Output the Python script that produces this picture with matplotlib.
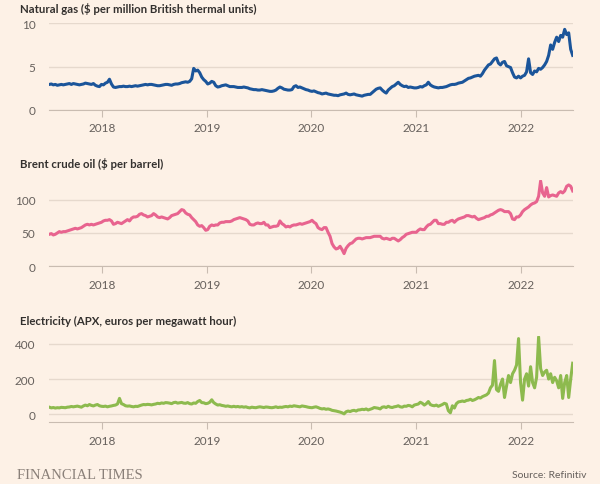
import matplotlib
matplotlib.use('Agg')
import matplotlib.pyplot as plt
import matplotlib.dates as mdates
import numpy as np
import pandas as pd

# weekly (Friday) readings, 30 Jun 2017 - 1 Jul 2022
year_spans = [('2017-06-30', '2017-12-31'), ('2018-01-01', '2018-12-31'),
              ('2019-01-01', '2019-12-31'), ('2020-01-01', '2020-12-31'),
              ('2021-01-01', '2021-12-31'), ('2022-01-01', '2022-07-01')]

gas_2017 = [2.95, 3.0, 2.9, 2.95, 2.85, 2.9, 2.95, 2.9, 2.95, 3.0, 3.05, 2.95, 3.05,
            3.0, 2.95, 2.9, 2.95, 3.0, 3.1, 3.05, 3.0, 2.95, 3.05, 2.85, 2.75, 2.7, 2.95]
gas_2018 = [2.9, 3.1, 3.2, 3.55, 3.0, 2.65, 2.6, 2.65, 2.7, 2.7, 2.75, 2.7, 2.7,
            2.75, 2.7, 2.75, 2.8, 2.75, 2.8, 2.85, 2.9, 2.95, 2.9, 2.95, 2.95, 2.9,
            2.85, 2.8, 2.8, 2.85, 2.9, 2.95, 2.95, 2.9, 2.85, 2.95, 3.0, 3.0, 3.05,
            3.15, 3.2, 3.25, 3.2, 3.3, 3.6, 4.8, 4.5, 4.6, 4.3, 3.8, 3.5, 3.3]
gas_2019 = [3.0, 3.1, 3.3, 3.2, 2.8, 2.65, 2.7, 2.8, 2.85, 2.9, 2.8, 2.7, 2.7,
            2.7, 2.65, 2.6, 2.6, 2.6, 2.65, 2.6, 2.55, 2.45, 2.4, 2.35, 2.35, 2.3,
            2.3, 2.35, 2.3, 2.25, 2.2, 2.15, 2.15, 2.2, 2.3, 2.5, 2.65, 2.55, 2.4,
            2.35, 2.3, 2.3, 2.35, 2.7, 2.8, 2.6, 2.65, 2.55, 2.45, 2.35, 2.3, 2.2]
gas_2020 = [2.15, 2.2, 2.1, 2.0, 1.95, 1.85, 1.9, 1.95, 1.85, 1.8, 1.75, 1.7, 1.7,
            1.65, 1.75, 1.8, 1.85, 1.95, 1.8, 1.75, 1.8, 1.85, 1.75, 1.7, 1.65, 1.6,
            1.7, 1.75, 1.8, 1.8, 2.0, 2.2, 2.4, 2.5, 2.55, 2.3, 2.1, 1.95, 2.3,
            2.5, 2.7, 2.8, 3.0, 3.2, 2.95, 2.8, 2.7, 2.75, 2.6, 2.65, 2.6, 2.55]
gas_2021 = [2.55, 2.6, 2.7, 2.65, 2.8, 2.9, 3.2, 2.9, 2.75, 2.65, 2.6, 2.55, 2.6,
            2.6, 2.65, 2.7, 2.8, 2.9, 2.95, 2.95, 3.0, 3.1, 3.15, 3.2, 3.35, 3.5,
            3.65, 3.7, 3.8, 3.9, 3.95, 4.0, 3.9, 4.2, 4.6, 4.9, 5.2, 5.3, 5.6,
            5.9, 6.0, 5.4, 5.2, 5.5, 5.6, 5.1, 5.0, 4.9, 4.3, 3.8, 3.7, 3.9, 3.7]
gas_2022 = [3.9, 4.0, 4.4, 5.9, 4.3, 4.1, 4.5, 4.4, 4.8, 4.7, 4.9, 5.2, 5.6,
            6.3, 7.5, 7.0, 7.8, 8.4, 7.9, 8.6, 8.4, 9.3, 8.7, 8.9, 7.0, 6.3]

oil_2017 = [48, 49, 47, 48, 50, 52, 51, 52, 52, 53, 54, 55, 56,
            57, 56, 57, 58, 60, 62, 63, 62, 63, 62, 63, 64, 65, 66]
oil_2018 = [68, 69, 69, 70, 68, 63, 64, 66, 65, 64, 66, 68, 70,
            68, 72, 74, 74, 75, 78, 79, 77, 76, 74, 75, 76, 79,
            77, 74, 73, 74, 73, 72, 71, 73, 76, 77, 78, 79, 82,
            85, 84, 80, 78, 77, 73, 70, 67, 62, 60, 61, 58, 54]
oil_2019 = [55, 60, 62, 61, 62, 62, 65, 66, 66, 67, 67, 67, 68,
            70, 71, 72, 73, 72, 71, 70, 68, 63, 62, 62, 64, 65,
            64, 64, 66, 62, 62, 58, 59, 60, 60, 61, 68, 64, 62,
            59, 60, 59, 61, 62, 62, 63, 64, 63, 64, 65, 66, 67]
oil_2020 = [69, 66, 64, 58, 56, 55, 58, 58, 51, 45, 34, 29, 26,
            27, 30, 25, 19, 27, 31, 34, 35, 38, 41, 42, 42, 41,
            42, 43, 43, 43, 44, 45, 45, 45, 45, 42, 41, 42, 41,
            40, 42, 42, 40, 38, 40, 43, 45, 48, 49, 50, 51, 51]
oil_2021 = [51, 54, 56, 55, 55, 59, 62, 63, 66, 69, 69, 64, 64,
            63, 63, 66, 66, 68, 69, 66, 69, 71, 72, 73, 74, 76,
            76, 75, 74, 75, 72, 70, 71, 72, 73, 75, 75, 77, 78,
            80, 82, 84, 85, 84, 82, 82, 82, 79, 71, 70, 74, 74, 77]
oil_2022 = [82, 85, 87, 89, 92, 94, 95, 97, 105, 128, 110, 105, 118,
            104, 106, 107, 106, 105, 110, 112, 110, 113, 120, 122, 120, 113]

power_2017 = [40, 36, 38, 35, 37, 36, 39, 38, 37, 40, 41, 44, 42,
              44, 46, 43, 40, 47, 52, 48, 55, 50, 47, 52, 55, 48, 45]
power_2018 = [44, 46, 42, 45, 47, 50, 52, 58, 90, 60, 55, 48, 46,
              47, 44, 42, 45, 44, 48, 52, 55, 54, 56, 55, 53, 56,
              58, 62, 60, 64, 62, 66, 65, 63, 60, 66, 68, 63, 65,
              67, 63, 62, 66, 60, 58, 64, 62, 72, 78, 66, 65, 60]
power_2019 = [62, 68, 82, 66, 58, 52, 54, 50, 48, 45, 47, 44, 42,
              45, 42, 44, 41, 43, 40, 42, 38, 36, 40, 38, 37, 40,
              42, 40, 38, 41, 40, 38, 37, 39, 42, 38, 40, 39, 42,
              44, 42, 46, 44, 48, 46, 44, 42, 47, 45, 43, 40, 38]
power_2020 = [37, 40, 42, 38, 33, 30, 32, 28, 30, 27, 22, 20, 18,
              15, 12, 8, 2, 14, 18, 15, 20, 22, 18, 24, 25, 28,
              26, 30, 24, 28, 32, 38, 36, 34, 30, 40, 42, 38, 45,
              40, 38, 42, 44, 48, 42, 40, 46, 45, 50, 48, 42, 52]
power_2021 = [55, 58, 68, 62, 52, 60, 72, 55, 50, 48, 52, 45, 50,
              55, 62, 58, 20, 8, 48, 35, 60, 70, 72, 75, 72, 78,
              80, 85, 78, 82, 88, 95, 92, 100, 105, 110, 120, 150, 165,
              305, 140, 130, 170, 200, 95, 160, 220, 180, 230, 250, 280, 430, 180]
power_2022 = [80, 200, 230, 160, 270, 180, 150, 210, 440, 260, 220, 240, 250,
              200, 230, 180, 210, 190, 150, 220, 90, 180, 220, 95, 200, 290]

titles = ['Natural gas ($ per million British thermal units)',
          'Brent crude oil ($ per barrel)',
          'Electricity (APX, euros per megawatt hour)']
yticks = [[0, 5, 10], [0, 50, 100], [0, 200, 400]]
ylims = [(0, 10), (0, 130), (-46, 447)]
colors = ['#1b559a', '#e8648f', '#8dba4e']

BG = '#fdf1e6'
GRID = '#e6d9cd'
TXT = '#66605c'

dates = pd.DatetimeIndex(np.concatenate(
    [pd.date_range(a, b, freq='W-FRI').values for a, b in year_spans]))
gas = gas_2017 + gas_2018 + gas_2019 + gas_2020 + gas_2021 + gas_2022
oil = oil_2017 + oil_2018 + oil_2019 + oil_2020 + oil_2021 + oil_2022
power = power_2017 + power_2018 + power_2019 + power_2020 + power_2021 + power_2022
data = [gas, oil, power]

plt.rcParams['font.family'] = ['Lato', 'DejaVu Sans']

fig = plt.figure(figsize=(6, 4.85), dpi=100, facecolor=BG)
W, H = 600, 485
x0, x1 = 49.3, 572.7
bottoms = [111, 267.3, 423.3]
height = 86.7
title_y = [9, 164.5, 321.5]

for i in range(3):
    ax = fig.add_axes([x0 / W, 1 - bottoms[i] / H, (x1 - x0) / W, height / H])
    ax.set_facecolor(BG)
    ax.plot(dates, data[i], color=colors[i], lw=2.2, solid_joinstyle='round')
    ax.set_xlim(dates[0], dates[-1])
    ax.set_ylim(*ylims[i])
    ax.set_yticks(yticks[i])
    ax.grid(axis='y', color=GRID, lw=1)
    ax.set_axisbelow(True)
    for side in ['top', 'right', 'left']:
        ax.spines[side].set_visible(False)
    ax.spines['bottom'].set_color('#c9bcb1')
    ax.xaxis.set_major_locator(mdates.YearLocator())
    ax.xaxis.set_major_formatter(mdates.DateFormatter('%Y'))
    ax.tick_params(axis='x', length=5, color='#c9bcb1', labelsize=8.5, labelcolor=TXT, pad=4)
    ax.tick_params(axis='y', length=0, labelsize=8.5, labelcolor=TXT, pad=10)
    fig.text(20 / W, 1 - title_y[i] / H, titles[i], fontsize=8.2, fontweight='bold',
             color='#33302e', va='center', ha='left')

fig.text(17 / W, 1 - 476 / H, 'FINANCIAL TIMES', family='Liberation Serif',
         fontsize=10.5, color='#8a8079', va='center', ha='left')
fig.text(586 / W, 1 - 476 / H, 'Source: Refinitiv', fontsize=7.5, color=TXT,
         va='center', ha='right')

fig.savefig('out.png', dpi=100, facecolor=BG)
